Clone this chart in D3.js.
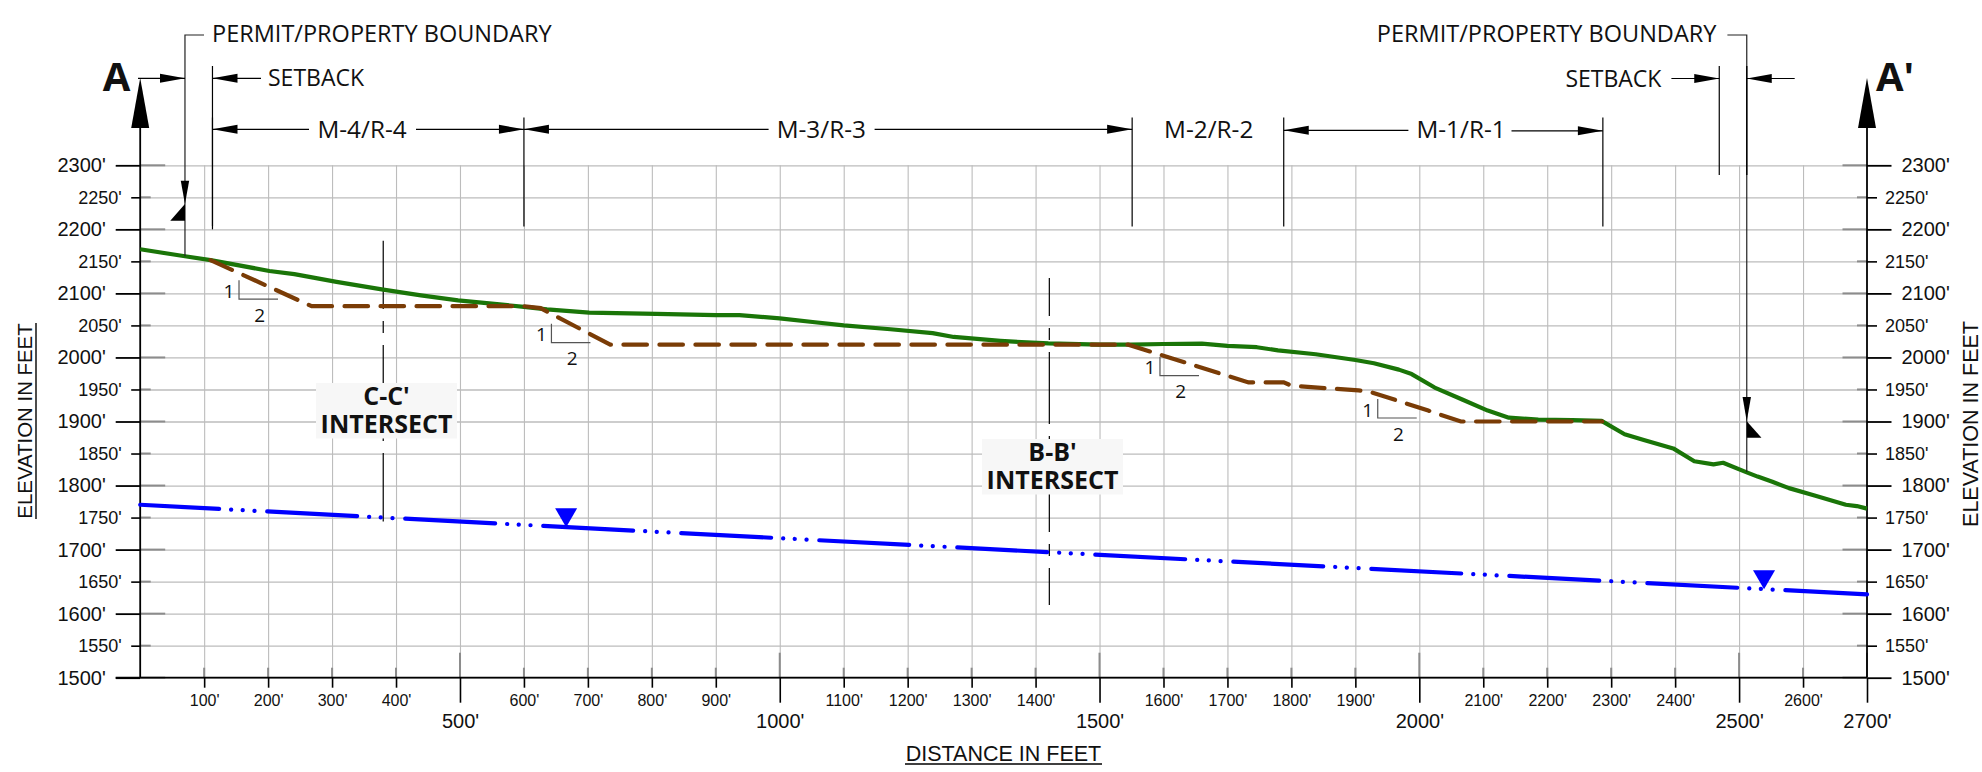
<!DOCTYPE html>
<html>
<head>
<meta charset="utf-8">
<script src="https://cdn.jsdelivr.net/npm/d3@7"></script>
<style>
  html, body { margin: 0; background: #fff; }
  svg { display: block; }
  .tick text { fill: #111; font-family: "Liberation Sans", sans-serif; }
  .note { font-family: "Open Sans", sans-serif; fill: #111; }
  .title { font-family: "Liberation Sans", sans-serif; fill: #111; }
</style>
</head>
<body>
<svg id="screen"></svg>
<script>
// tick values, feet
const majorElev = [1500,1600,1700,1800,1900,2000,2100,2200,2300]
const minorElev = [1550,1650,1750,1850,1950,2050,2150,2250]
const majorDist = [500,1000,1500,2000,2500,2700]
const minorDist = [100,200,300,400,600,700,800,900,1100,1200,1300,1400,1600,1700,1800,1900,2100,2200,2300,2400,2600]

// existing ground
const groundDist = [0,70,110,202,241,307,380,439,497,570,600,636,702,807,900,937,1000,1055,1100,1173,1239,1272,1345,1378,1420,1500,1549,1600,1660,1700,1746,1779,1838,1900,1929,1968,1988,2024,2068,2107,2140,2186,2239,2285,2321,2351,2397,2430,2460,2475,2511,2529,2552,2578,2618,2667,2684,2700]
const groundElev = [2169,2158,2152,2135,2130,2118,2106,2097,2089,2082,2079,2075,2070,2068,2066,2066,2061,2055,2050,2044,2038,2032,2026,2024,2022,2020,2020,2021,2021.5,2018,2016,2011,2005,1996,1991,1981,1974,1953,1934,1917,1906,1903,1902,1901,1880,1871,1858,1838,1833,1835.6,1821,1814,1806,1796,1784.5,1770,1768,1764]

// final grade (dashed)
const gradeDist = [110,268,600,626,735,1545,1593,1733,1788,1796,1811,1905,1921,2014,2065,2286]
const gradeElev = [2152,2080,2080,2077,2020,2020,2005,1961,1961,1957.6,1955,1948.5,1947,1917,1900,1900]

// groundwater
const waterDist = [0,380,1420,2700]
const waterElev = [1770,1750,1696,1630]
const waterMarks = [666,2539]

// 1:2 slope corners
const slopeDist = [154.5,643,1594.5,1935]
const slopeElev = [2091,2023,1971.5,1905.5]

// section intersects
const intersectNames = ["C-C'","B-B'"]
const intersectDist = [380,1421.5]

// unit boundaries
const boundaryDist = [600,1551,1788,2287]
const unitNames = ["M-4/R-4","M-3/R-3","M-2/R-2","M-1/R-1"]

const permitDist = [70,2512]
const setbackDist = [113,2469]

let svgSize = {width: 1982, height: 772}
let frame = d3.select('#screen')
  .attr('width', svgSize.width)
  .attr('height', svgSize.height)

const x = d3.scaleLinear().domain([0,2700]).range([140.2,1867])
const y = d3.scaleLinear().domain([1500,2300]).range([677.7,165.3])

const GREY = '#bcbcbc'
const TICKGREY = '#8c8c8c'

// ---------- grid
frame.append('g')
  .attr('transform', `translate(0,${y(1500)})`)
  .call(d3.axisBottom(x).tickValues(minorDist.concat(majorDist.slice(0,5))).tickSize(y(2300)-y(1500)).tickFormat(''))
  .call(g => g.select('.domain').remove())
  .call(g => g.selectAll('line').attr('stroke', GREY).attr('stroke-width', 1.1))

frame.append('g')
  .attr('transform', `translate(${x(0)},0)`)
  .call(d3.axisRight(y).tickValues(majorElev.concat(minorElev)).tickSize(x(2700)-x(0)).tickFormat(''))
  .call(g => g.select('.domain').remove())
  .call(g => g.selectAll('line').attr('stroke', GREY).attr('stroke-width', 1.3))

// ---------- axes
function drawAxis(axis, tx, ty, size, pad, font, width) {
  return frame.append('g')
    .attr('transform', `translate(${tx},${ty})`)
    .call(axis.tickSize(size).tickPadding(pad).tickFormat(d => d + "'"))
    .call(g => g.select('.domain').remove())
    .call(g => g.selectAll('line').attr('stroke', '#000').attr('stroke-width', width))
    .call(g => g.selectAll('text').attr('font-size', font))
}
function greyTicks(list, x1, y1, x2, y2, width) {
  frame.append('g').selectAll('line').data(list).enter().append('line')
    .attr('x1', x1).attr('y1', y1).attr('x2', x2).attr('y2', y2)
    .attr('stroke', TICKGREY).attr('stroke-width', width)
}

drawAxis(d3.axisLeft(y).tickValues(majorElev), x(0), 0, 24.5, 10, 20, 1.8)
drawAxis(d3.axisLeft(y).tickValues(minorElev), x(0), 0, 9, 9.5, 18, 1.6)
drawAxis(d3.axisRight(y).tickValues(majorElev), x(2700), 0, 24.5, 10, 20, 1.8)
drawAxis(d3.axisRight(y).tickValues(minorElev), x(2700), 0, 10, 8, 18, 1.6)
drawAxis(d3.axisBottom(x).tickValues(minorDist), 0, y(1500), 10, 7, 16, 1.6)
drawAxis(d3.axisBottom(x).tickValues(majorDist), 0, y(1500), 25, 11, 20, 1.6)

greyTicks(majorElev, x(0), d => y(d), x(0)+25, d => y(d), 2)
greyTicks(minorElev, x(0), d => y(d), x(0)+10.5, d => y(d), 2)
greyTicks(majorElev, x(2700)-24.5, d => y(d), x(2700), d => y(d), 2)
greyTicks(minorElev, x(2700)-10, d => y(d), x(2700), d => y(d), 2)
greyTicks(minorDist, d => x(d), y(1500)-10, d => x(d), y(1500), 2)
greyTicks(majorDist, d => x(d), y(1500)-25, d => x(d), y(1500), 2)

// axis lines and section arrows
function line(x1, y1, x2, y2, width, color) {
  return frame.append('line')
    .attr('x1', x1).attr('y1', y1).attr('x2', x2).attr('y2', y2)
    .attr('stroke', color || '#000').attr('stroke-width', width || 1.2)
}
function poly(pts, color) {
  return frame.append('polygon').attr('points', pts.join(' ')).attr('fill', color || '#000')
}
line(115.7, y(1500), x(2700), y(1500), 1.8)
line(x(0), y(1500), x(0), 100, 1.8)
line(x(2700), y(1500), x(2700), 100, 1.8)
;[x(0), x(2700)].forEach(px => poly([[px-9,128],[px,78],[px+9,128]]))

// ---------- profile lines
const profile = d3.line().x(d => x(d[0])).y(d => y(d[1]))
const waterLine = d3.zip(waterDist, waterElev)
const waterAt = d3.scaleLinear().domain(waterDist).range(waterElev)

// intersect centre lines go under everything else
function intersect(i, top, bottom, offset) {
  line(x(intersectDist[i]), top, x(intersectDist[i]), bottom, 1.2)
    .attr('stroke-dasharray', '72 12 12 12')
    .attr('stroke-dashoffset', offset)
}
intersect(0, 240.7, y(1744), 3.7)
intersect(1, 278, 605, 34)

frame.append('path').datum(waterLine)
  .attr('d', profile).attr('fill', 'none')
  .attr('stroke', '#0000ff').attr('stroke-width', 4.2).attr('stroke-linecap', 'round')
  .attr('stroke-dasharray', '90 12 0.1 11.5 0.1 11.7 0.1 12.7')
  .attr('stroke-dashoffset', 11)

waterMarks.forEach(d => {
  let px = x(d), py = y(waterAt(d))
  frame.append('path')
    .attr('d', d3.symbol().type(d3.symbolTriangle).size(210))
    .attr('transform', `translate(${px},${py-12.5}) rotate(180)`)
    .attr('fill', '#0000ff')
})

frame.append('path').datum(d3.zip(groundDist, groundElev))
  .attr('d', profile).attr('fill', 'none')
  .attr('stroke', '#1a7508').attr('stroke-width', 4.2).attr('stroke-linejoin', 'round')

frame.append('path').datum(d3.zip(gradeDist, gradeElev))
  .attr('d', profile).attr('fill', 'none')
  .attr('stroke', '#7a3c06').attr('stroke-width', 4.2).attr('stroke-linecap', 'round')
  .attr('stroke-dasharray', '23.5 12.5')

// ---------- slope marks
slopeDist.forEach((d,i) => {
  let px = x(d), py = y(slopeElev[i])
  frame.append('path')
    .attr('d', `M${px},${py-19}V${py}H${px+39}`)
    .attr('fill', 'none').attr('stroke', '#555').attr('stroke-width', 1.2)
  note('1', px-10, py-8, 19, 'middle')
  note('2', px+20.7, py+16, 19, 'middle')
})

function note(txt, px, py, size, anchor, weight) {
  return frame.append('text').attr('class', 'note')
    .attr('x', px).attr('y', py)
    .attr('dy', '.35em')
    .attr('font-size', size)
    .attr('text-anchor', anchor || 'start')
    .attr('font-weight', weight || 400)
    .text(txt)
}

// ---------- intersect labels
const boxLeft = [316, 982], boxTop = [383, 439]
intersectNames.forEach((name,i) => {
  frame.append('rect')
    .attr('x', boxLeft[i]).attr('y', boxTop[i]).attr('width', 141).attr('height', 55.5)
    .attr('fill', '#f7f7f7')
  note(name, boxLeft[i]+70.5, boxTop[i]+13, 25, 'middle', 700)
  note('INTERSECT', boxLeft[i]+70.5, boxTop[i]+41, 25, 'middle', 700)
})

// ---------- dimension lines on top
function head(tip, py, dir) {
  poly([[tip,py],[tip+dir*25,py-4.5],[tip+dir*25,py+4.5]])
}

// section letters
note('A', 116.5, 77, 40, 'middle', 700)
note("A'", 1895, 77, 40, 'middle', 700)

// permit boundary leaders
let permitL = x(permitDist[0]), permitR = x(permitDist[1])
frame.append('path').attr('fill', 'none').attr('stroke', '#222').attr('stroke-width', 1.2)
  .attr('d', `M204,35H${permitL}V${y(2158)}`)
frame.append('path').attr('fill', 'none').attr('stroke', '#222').attr('stroke-width', 1.2)
  .attr('d', `M1727.4,35H${permitR}V${y(1821)}`)
line(permitR, 66, permitR, 175, 1.4)
note('PERMIT/PROPERTY BOUNDARY', 212, 33.5, 23.5)
note('PERMIT/PROPERTY BOUNDARY', 1376.8, 33.5, 23.5)

// down arrow with flag, both sides
poly([[permitL-4.2,180.7],[permitL+4.2,180.7],[permitL,204]])
poly([[permitL,204],[permitL,220.7],[permitL-14.7,220.7]])
poly([[permitR-4.2,397],[permitR+4.2,397],[permitR,421.3]])
poly([[permitR,421.3],[permitR,437.7],[permitR+14.7,437.7]])

// setback arrows
let setL = x(setbackDist[0]), setR = x(setbackDist[1])
line(138, 78.3, permitL, 78.3)
head(permitL, 78.3, -1)
line(setL, 66, setL, y(2200), 1.2)
line(setL, 78.3, 261, 78.3)
head(setL, 78.3, 1)
note('SETBACK', 268, 78.3, 23)
line(setR, 66, setR, 175, 1.2)
line(1671.4, 78.5, setR, 78.5)
head(setR, 78.5, -1)
note('SETBACK', 1565.4, 78.5, 23)
line(permitR, 78.5, 1794.7, 78.5)
head(permitR, 78.5, 1)

// unit widths
const dimY = 129.3
boundaryDist.forEach(d => line(x(d), 117.5, x(d), 226.5, 1.2))
line(setL, 117.5, setL, 226, 1.2)

line(setL, dimY, 309, dimY)
line(416, dimY, x(600), dimY)
head(setL, dimY, 1)
head(x(600), dimY, -1)
head(x(600), dimY, 1)
line(x(600), dimY, 768.6, dimY)
line(874.6, dimY, x(1551), dimY)
head(x(1551), dimY, -1)
line(x(1788), dimY+1, 1408.4, dimY+1)
head(x(1788), dimY+1, 1)
line(1511.5, dimY+1.5, x(2287), dimY+1.5)
head(x(2287), dimY+1.5, -1)

const unitCenter = [362, 821.3, 1208.7, 1461]
unitNames.forEach((name,i) => note(name, unitCenter[i], dimY, 24.3, 'middle'))

// ---------- axis titles
frame.append('text').attr('class', 'title')
  .attr('transform', 'translate(31.5,421) rotate(-90)')
  .attr('text-anchor', 'middle').attr('font-size', 20.4).text('ELEVATION IN FEET')
line(36, 323, 36, 519, 1.4)
frame.append('text').attr('class', 'title')
  .attr('transform', 'translate(1978,424) rotate(-90)')
  .attr('text-anchor', 'middle').attr('font-size', 21.5).text('ELEVATION IN FEET')
frame.append('text').attr('class', 'title')
  .attr('x', 1003.5).attr('y', 761)
  .attr('text-anchor', 'middle').attr('font-size', 21.5).text('DISTANCE IN FEET')
line(905, 764, 1102, 764, 1.4)
</script>
</body>
</html>
